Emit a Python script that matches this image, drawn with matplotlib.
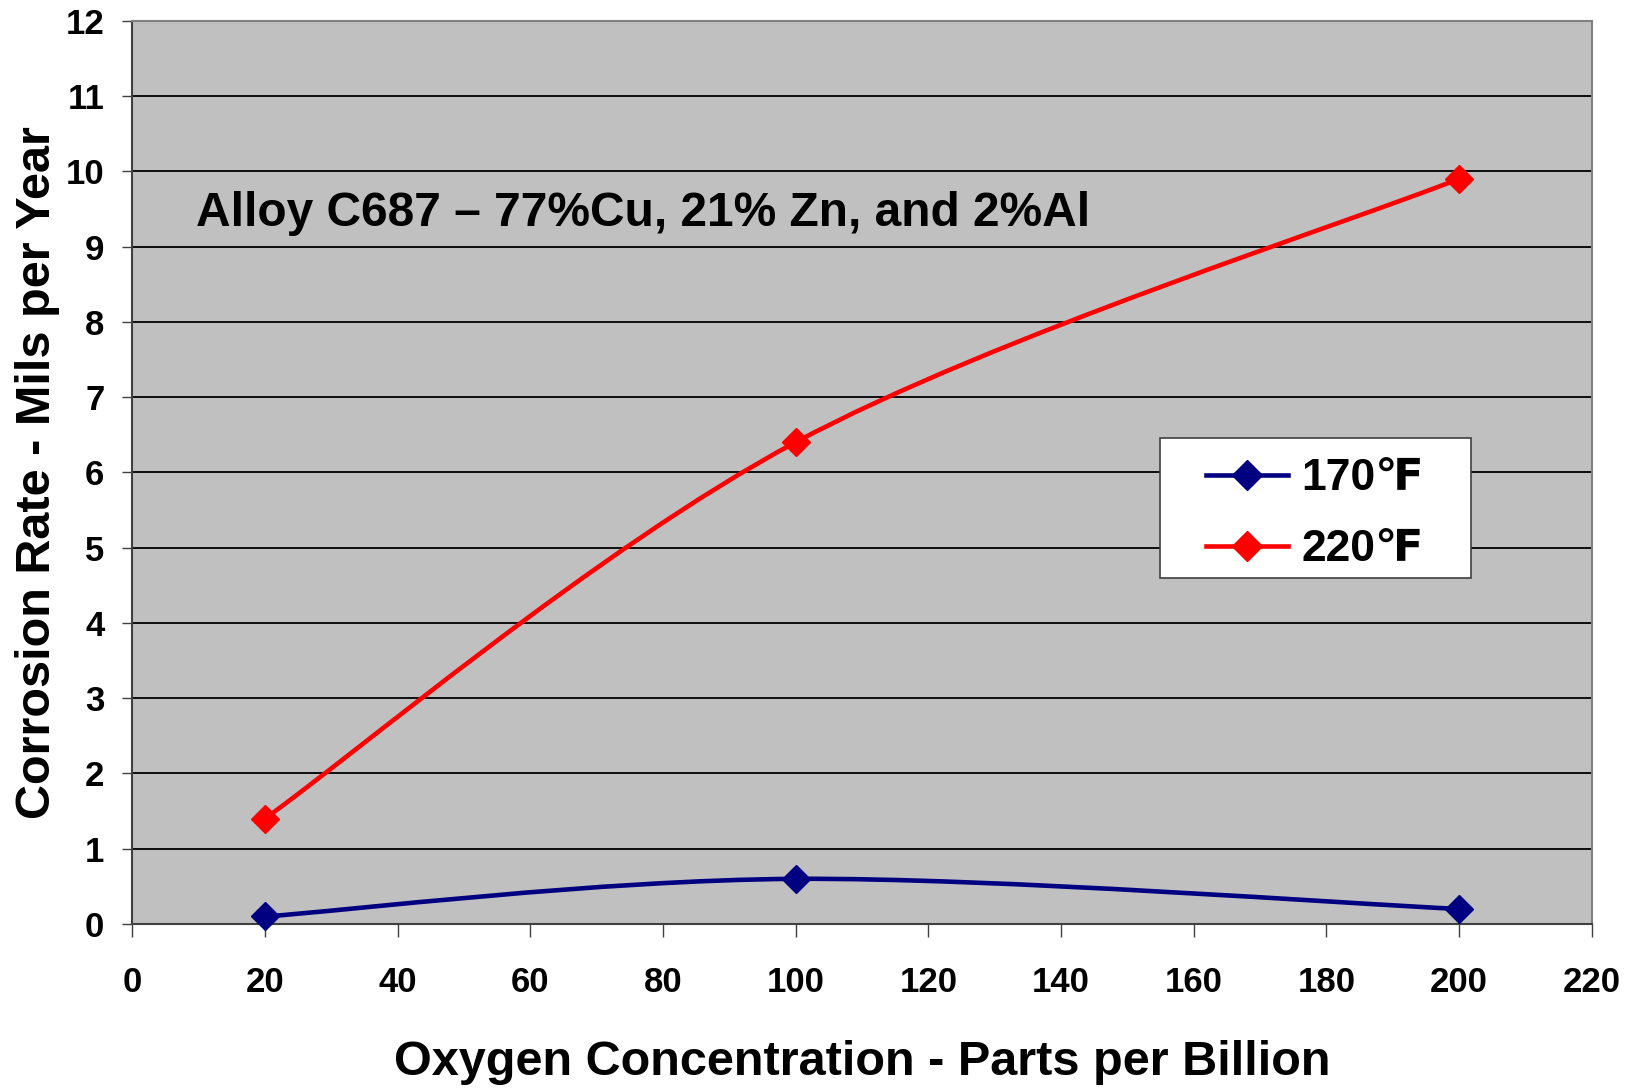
import matplotlib
matplotlib.use("Agg")
import matplotlib.pyplot as plt
import numpy as np
from matplotlib.path import Path
from matplotlib.patches import PathPatch, Rectangle
from matplotlib.lines import Line2D

plt.rcParams['font.family'] = ['Liberation Sans', 'DejaVu Sans']
plt.rcParams['font.weight'] = 'bold'

oxygen_ppb = [20, 100, 200]
rate_170 = [0.1, 0.6, 0.2]
rate_220 = [1.4, 6.4, 9.9]
series_labels = ['170\u2109', '220\u2109']
series_colors = ['#000080', '#FF0000']
note = 'Alloy C687 \u2013 77%Cu, 21% Zn, and 2%Al'


def smooth_path(xs, ys):
    # spreadsheet-style smoothed line: cubic Bezier through every point
    pts = np.column_stack([xs, ys]).astype(float)
    padded = np.vstack([pts[:1], pts, pts[-1:]])
    verts = [pts[0]]
    codes = [Path.MOVETO]
    for i in range(1, len(padded) - 2):
        p0, p1, p2, p3 = padded[i - 1], padded[i], padded[i + 1], padded[i + 2]
        verts += [p1 + (p2 - p0) / 6, p2 - (p3 - p1) / 6, p2]
        codes += [Path.CURVE4] * 3
    return Path(verts, codes)


fig = plt.figure(figsize=(16.31, 10.89), dpi=100)
ax = fig.add_axes([0.081, 0.1515, 0.895, 0.8295])
ax.set_facecolor('#C0C0C0')

handles = []
for ys, color, label in zip([rate_170, rate_220], series_colors, series_labels):
    ax.add_patch(PathPatch(smooth_path(oxygen_ppb, ys), fill=False,
                           edgecolor=color, lw=3.3, zorder=3))
    ax.plot(oxygen_ppb, ys, ls='none', marker='D', ms=14,
            color=color, zorder=4, clip_on=False)
    handles.append(Line2D([], [], color=color, lw=3.3, marker='D', ms=15,
                          label=label))

ax.set_xlim(0, 220)
ax.set_ylim(0, 12)
ax.set_xticks(np.arange(0, 221, 20))
ax.set_yticks(np.arange(0, 13, 1))
ax.grid(axis='y', color='black', lw=1.3)
ax.set_axisbelow(True)

for side in ['top', 'right']:
    ax.spines[side].set_color('#808080')
    ax.spines[side].set_linewidth(1.5)
for side in ['left', 'bottom']:
    ax.spines[side].set_color('#404040')
    ax.spines[side].set_linewidth(1.5)

ax.tick_params(axis='x', length=9, width=1, pad=21, labelsize=25, color='#404040')
ax.tick_params(axis='y', length=7, width=1, pad=13, labelsize=25, color='#404040')

ax.set_xlabel('Oxygen Concentration - Parts per Billion', fontsize=35,
              fontweight='bold', labelpad=30)
ax.set_ylabel('Corrosion Rate - Mils per Year', fontsize=35,
              fontweight='bold', labelpad=4)

ax.text(9.6, 9.44, note, fontsize=34.5, fontweight='bold', va='center', ha='left')

# legend box drawn separately so the padding can be wider than it is tall
ax.add_patch(Rectangle((0.704, 0.383), 0.213, 0.155, transform=ax.transAxes,
                       facecolor='white', edgecolor='#404040', lw=1.2, zorder=5))
leg = ax.legend(handles=handles, loc='center', bbox_to_anchor=(0.8105, 0.4535),
                fontsize=32, frameon=False, handlelength=1.85,
                labelspacing=0.68, handletextpad=0.3, borderpad=0, borderaxespad=0)
leg.set_zorder(6)
for t in leg.get_texts():
    t.set_fontweight('bold')

fig.savefig('out.png', dpi=100)
